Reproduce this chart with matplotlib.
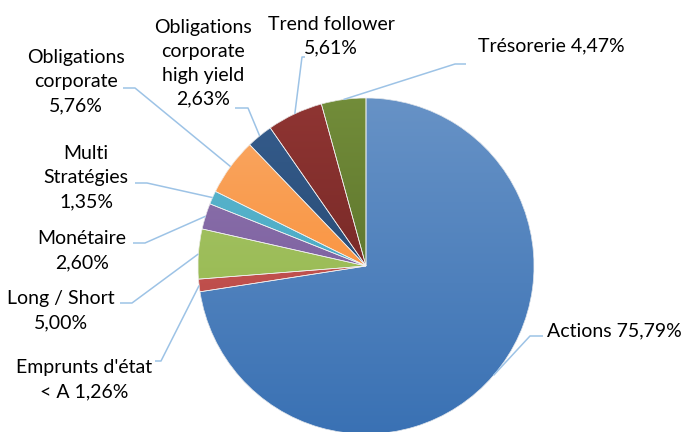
import colorsys
import numpy as np
import matplotlib
matplotlib.use("Agg")
import matplotlib.pyplot as plt
from matplotlib.colors import to_rgb
from matplotlib.patches import Wedge

# data
names = ["Actions", "Emprunts d'état\n< A", "Long / Short", "Monétaire",
         "Multi\nStratégies", "Obligations\ncorporate",
         "Obligations\ncorporate\nhigh yield", "Trend follower", "Trésorerie"]
seps = [" ", " ", "\n", "\n", "\n", "\n", "\n", "\n", " "]
values = [75.79, 1.26, 5.00, 2.60, 1.35, 5.76, 2.63, 5.61, 4.47]
colors = ["#4F81BD", "#C0504D", "#9BBB59", "#8064A2", "#4BACC6",
          "#F79646", "#2C4D75", "#772C2A", "#5F7530"]

plt.rcParams["font.family"] = ["Lato", "DejaVu Sans"]

W, H = 681, 432
CX, CY, R = 366, 266, 168  # pie centre / radius in pixels


def px(x, y):
    return ((x - CX) / R, (CY - y) / R)


def shade(c, dl, ds):
    h, l, s = colorsys.rgb_to_hls(*to_rgb(c))
    return np.array(colorsys.hls_to_rgb(h, min(max(l + dl, 0), 1), min(max(s + ds, 0), 1)))


fig = plt.figure(figsize=(W / 100, H / 100), dpi=100)
ax = fig.add_axes([0, 0, 1, 1])
ax.axis("off")

wedges, _ = ax.pie(values, colors=colors, startangle=90, counterclock=False,
                   radius=1, wedgeprops=dict(linewidth=0))
ax.set_xlim(-CX / R, (W - CX) / R)
ax.set_ylim(-(H - CY) / R, CY / R)
ax.set_aspect("equal")

# Excel-like vertical gradient inside every slice
g = np.linspace(0, 1, 256)[:, None, None]
for w, c in zip(wedges, colors):
    top = shade(c, 0.065, 0.0)
    bot = shade(c, -0.06, 0.06)
    img = np.repeat(top * (1 - g) + bot * g, 4, axis=1)
    im = ax.imshow(img, extent=(-1, 1, -1, 1), origin="upper",
                   interpolation="bilinear", zorder=w.get_zorder() + 0.1)
    im.set_clip_path(w)
for w in wedges:
    ax.add_patch(Wedge(w.center, w.r, w.theta1, w.theta2, facecolor="none",
                       edgecolor="#f2f2f2", linewidth=0.5, zorder=5))

# label layout in pixels: text anchor, alignment, elbow, horizontal end
layout = [
    ((547, 331), "left", (530, 336), (543, 336)),
    ((84, 380), "center", (161, 361), (155, 361)),
    ((61, 311), "center", (132, 303), (120, 303)),
    ((82, 251), "center", (145, 243), (133, 243)),
    ((86, 178), "center", (147, 183), (135, 183)),
    ((76, 82), "center", (135, 88), (123, 88)),
    ((203, 63), "center", (248, 108), (235, 108)),
    ((331, 36), "center", (302, 57), (305, 57)),
    ((478, 46), "left", (455, 64), (466, 64)),
]

lc = "#9DC3E6"
for w, name, sep, v, (tp, ha, elbow, end) in zip(wedges, names, seps, values, layout):
    mid = np.deg2rad((w.theta1 + w.theta2) / 2)
    ax0, ay0 = np.cos(mid), np.sin(mid)
    ex, ey = px(*elbow)
    hx, hy = px(*end)
    ax.plot([ax0, ex, hx], [ay0, ey, hy], color=lc, lw=1.1, zorder=6,
            solid_capstyle="butt")
    label = name + sep + f"{v:.2f}".replace(".", ",") + "%"
    tx, ty = px(*tp)
    ax.text(tx, ty, label, ha=ha, va="center", fontsize=14,
            linespacing=1.5, color="#000000", zorder=7)

fig.savefig("out.png", dpi=100)
